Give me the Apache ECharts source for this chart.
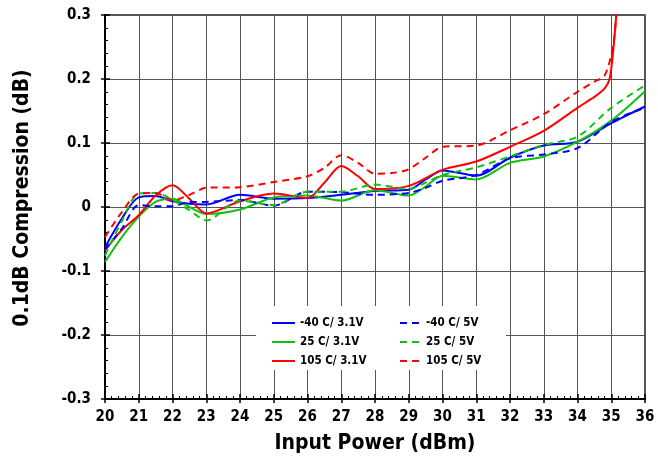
<!DOCTYPE html>
<html>
<head>
<meta charset="utf-8">
<script src="https://cdn.jsdelivr.net/npm/echarts@6/dist/echarts.min.js"></script>
<style>
  html, body { margin: 0; padding: 0; background: #fff; }
  #chart { width: 658px; height: 464px; }
</style>
</head>
<body>
<div id="chart"></div>
<script>
// Input power points (dBm) shared by the -40 C and 25 C curves
const powerIn = [20, 20.5, 21, 21.5, 22, 22.5, 23, 24, 25, 26, 27, 28, 29, 29.5, 30, 31, 32, 33, 34, 35, 36];

// 0.1dB compression (dB)
const cold31 = [-0.063, -0.018, 0.015, 0.017, 0.009, 0.005, 0.004, 0.019, 0.013, 0.014, 0.019, 0.025, 0.027, 0.043, 0.057, 0.049, 0.077, 0.096, 0.102, 0.131, 0.157];
const cold5 = [-0.066, -0.034, 0.003, 0.001, 0.001, 0.008, 0.008, 0.011, 0.002, 0.024, 0.023, 0.019, 0.022, 0.030, 0.041, 0.050, 0.076, 0.082, 0.092, 0.133, 0.155];
const room31 = [-0.086, -0.047, -0.015, 0.008, 0.013, 0.000, -0.011, -0.004, 0.015, 0.018, 0.010, 0.026, 0.018, 0.032, 0.049, 0.043, 0.069, 0.079, 0.102, 0.135, 0.181];
const room5 = [-0.076, -0.022, 0.021, 0.022, 0.011, -0.005, -0.021, 0.010, 0.003, 0.024, 0.024, 0.035, 0.028, 0.038, 0.050, 0.062, 0.079, 0.097, 0.110, 0.155, 0.190];

// 105 C curves run off the top near 35 dBm
const hot31X = [20, 20.5, 21, 21.5, 22, 22.5, 23, 24, 25, 26, 26.5, 27, 27.5, 28, 29, 30, 31, 32, 33, 34, 34.5, 34.8, 34.95, 35.05, 35.15, 35.25];
const hot31 = [-0.068, -0.036, -0.013, 0.018, 0.034, 0.013, -0.010, 0.009, 0.021, 0.014, 0.038, 0.064, 0.048, 0.028, 0.033, 0.058, 0.071, 0.094, 0.119, 0.155, 0.172, 0.185, 0.200, 0.240, 0.300, 0.360];
const hot5X = [20, 20.5, 21, 21.5, 22, 22.5, 23, 24, 25, 26, 26.5, 27, 27.5, 28, 28.5, 29, 29.5, 30, 31, 32, 33, 34, 34.5, 34.8, 35.05, 35.15, 35.25];
const hot5 = [-0.047, -0.008, 0.021, 0.022, 0.010, 0.019, 0.030, 0.031, 0.039, 0.048, 0.061, 0.081, 0.069, 0.052, 0.053, 0.059, 0.077, 0.094, 0.096, 0.120, 0.145, 0.180, 0.196, 0.205, 0.250, 0.300, 0.360];

const xTicks = { min: 20, max: 36, interval: 1 };
const yTicks = { min: -0.3, max: 0.3, interval: 0.1 };

const FONT = "'DejaVu Sans Condensed', 'DejaVu Sans', sans-serif";
const BLUE = '#0000ff';
const GREEN = '#12c012';
const RED = '#ff0000';

function pairs(xs, ys) {
  return xs.map((x, i) => [x, ys[i]]);
}

function makeSeries(name, xs, ys, color, dashed) {
  return {
    name: name,
    type: 'line',
    xAxisIndex: 0,
    yAxisIndex: 0,
    data: pairs(xs, ys),
    symbol: 'none',
    smooth: 0.3,
    z: 2,
    lineStyle: { color: color, width: 2, type: dashed ? [7, 5] : 'solid' },
    itemStyle: { color: color }
  };
}

const chart = echarts.init(document.getElementById('chart'));

const legendText = { fontFamily: FONT, fontWeight: 'bold', fontSize: 11.5, color: '#000' };
// hide the symbol line series put in the middle of their legend icon
const legendItem = { color: 'transparent', borderWidth: 0, opacity: 0 };

const option = {
  animation: false,
  grid: {
    left: 105, right: 13, top: 15, bottom: 65,
    show: true, borderColor: '#222', borderWidth: 1.5
  },
  graphic: [{
    type: 'rect',
    z: 3,
    shape: { x: 256, y: 306, width: 250, height: 64 },
    style: { fill: '#fff' }
  }],
  legend: [
    {
      data: ['-40 C/ 3.1V', '25 C/ 3.1V', '105 C/ 3.1V'],
      orient: 'vertical',
      left: 266, top: 312,
      itemWidth: 23, itemHeight: 12, itemGap: 7,
      itemStyle: legendItem,
      textStyle: legendText
    },
    {
      data: ['-40 C/ 5V', '25 C/ 5V', '105 C/ 5V'],
      orient: 'vertical',
      left: 394, top: 312,
      itemWidth: 21, itemHeight: 12, itemGap: 7,
      itemStyle: legendItem,
      textStyle: legendText
    }
  ],
  xAxis: [
    {
      type: 'value',
      position: 'bottom',
      min: xTicks.min, max: xTicks.max, interval: xTicks.interval,
      name: 'Input Power (dBm)',
      nameLocation: 'middle',
      nameGap: 34,
      nameTextStyle: { fontFamily: FONT, fontWeight: 'bold', fontSize: 21, color: '#000' },
      axisLine: { show: true, onZero: false, lineStyle: { color: '#000', width: 2 } },
      axisTick: { show: true, inside: false, length: 4, lineStyle: { color: '#000', width: 1.5 } },
      axisLabel: { margin: 11, fontFamily: FONT, fontWeight: 'bold', fontSize: 15, color: '#000' },
      splitLine: { show: true, lineStyle: { color: '#555', width: 1 } }
    },
    {
      type: 'value',
      position: 'bottom',
      min: xTicks.min, max: xTicks.max, interval: xTicks.interval,
      axisLine: { show: false, onZero: false },
      axisTick: { show: true, inside: true, length: 5, lineStyle: { color: '#000', width: 1.5 } },
      minorTick: { show: true, splitNumber: 5, length: 3, lineStyle: { color: '#000', width: 1 } },
      axisLabel: { show: false },
      splitLine: { show: false }
    }
  ],
  yAxis: [
    {
      type: 'value',
      position: 'left',
      min: yTicks.min, max: yTicks.max, interval: yTicks.interval,
      name: '0.1dB Compression (dB)',
      nameLocation: 'middle',
      nameGap: 72,
      nameTextStyle: {
        fontFamily: FONT, fontWeight: 'bold', fontSize: 21, color: '#000',
        padding: [0, 0, 0, 18] // nudges the title a little upward
      },
      axisLine: { show: true, onZero: false, lineStyle: { color: '#000', width: 2 } },
      axisTick: { show: true, inside: false, length: 4, lineStyle: { color: '#000', width: 1.5 } },
      axisLabel: {
        margin: 14, fontFamily: FONT, fontWeight: 'bold', fontSize: 15, color: '#000',
        formatter: v => String(Math.round(v * 10) / 10)
      },
      splitLine: { show: true, lineStyle: { color: '#555', width: 1 } }
    },
    {
      type: 'value',
      position: 'left',
      min: yTicks.min, max: yTicks.max, interval: yTicks.interval,
      axisLine: { show: false, onZero: false },
      axisTick: { show: true, inside: true, length: 5, lineStyle: { color: '#000', width: 1.5 } },
      minorTick: { show: true, splitNumber: 5, length: 3, lineStyle: { color: '#000', width: 1 } },
      axisLabel: { show: false },
      splitLine: { show: false }
    }
  ],
  series: [
    makeSeries('-40 C/ 3.1V', powerIn, cold31, BLUE, false),
    makeSeries('25 C/ 3.1V', powerIn, room31, GREEN, false),
    makeSeries('105 C/ 3.1V', hot31X, hot31, RED, false),
    makeSeries('-40 C/ 5V', powerIn, cold5, BLUE, true),
    makeSeries('25 C/ 5V', powerIn, room5, GREEN, true),
    makeSeries('105 C/ 5V', hot5X, hot5, RED, true)
  ]
};

chart.setOption(option);
</script>
</body>
</html>
